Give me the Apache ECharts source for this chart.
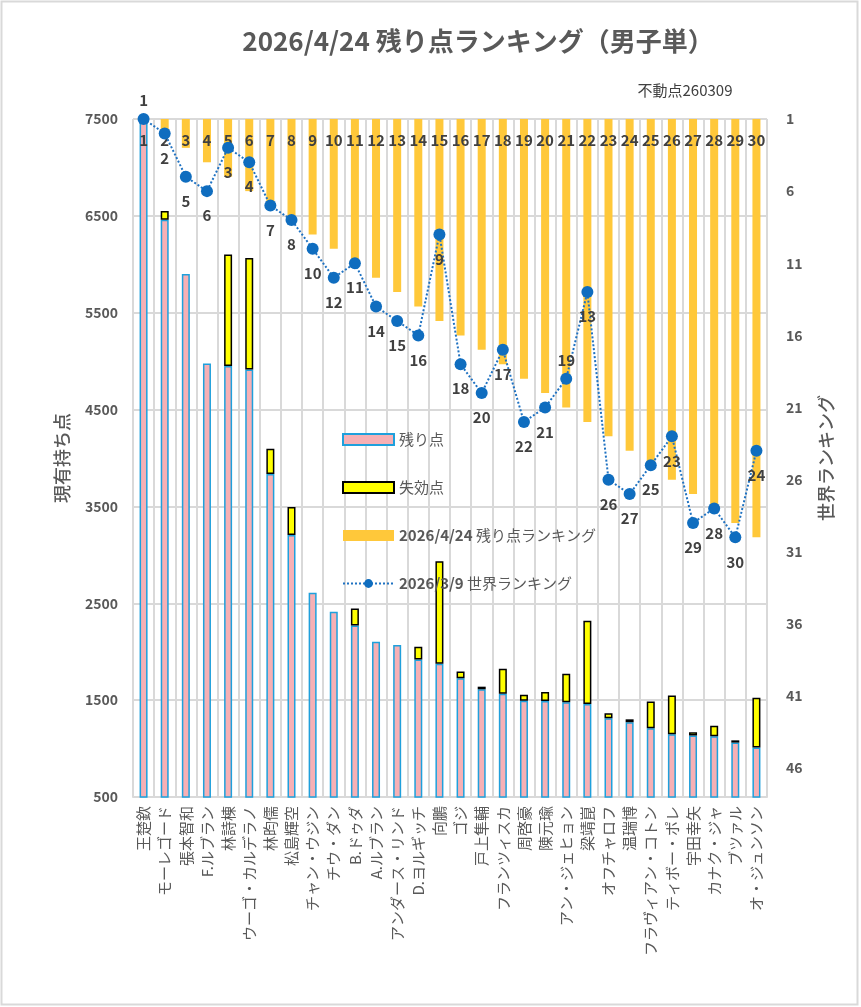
<!DOCTYPE html>
<html><head><meta charset="utf-8">
<script src="https://cdn.jsdelivr.net/npm/echarts@6/dist/echarts.min.js"></script>
<style>html,body{margin:0;padding:0;background:#fff}#c{width:861px;height:1007px}</style>
</head><body><div id="c"></div>
<script>
const categories = ['王楚欽','モーレゴード','張本智和','F.ルブラン','林詩棟','ウーゴ・カルデラノ','林昀儒','松島輝空','チャン・ウジン','チウ・ダン','B.ドゥダ','A.ルブラン','アンダース・リンド','D.ヨルギッチ','向鵬','ゴジ','戸上隼輔','フランツィスカ','周啓豪','陳元瑜','アン・ジェヒョン','梁靖崑','オフチャロフ','温瑞博','フラヴィアン・コトン','ティボー・ポレ','宇田幸矢','カナク・ジャ','ブツァル','オ・ジュンソン'];
const remainPoints = [7500,6460,5900,4975,4950,4915,3835,3205,2610,2413,2270,2104,2069,1920,1875,1725,1612,1565,1495,1490,1478,1460,1312,1272,1210,1147,1135,1127,1062,1010];
const expiredPoints = [0,90,0,0,1150,1150,260,290,0,0,175,0,0,130,1060,70,27,260,60,95,295,860,52,30,275,400,33,108,23,515];
const remainRank = [1,2,3,4,5,6,7,8,9,10,11,12,13,14,15,16,17,18,19,20,21,22,23,24,25,26,27,28,29,30];
const worldRank = [1,2,5,6,3,4,7,8,10,12,11,14,15,16,9,18,20,17,22,21,19,13,26,27,25,23,29,28,30,24];
const seriesNames = ['残り点','失効点','2026/4/24 残り点ランキング','2026/3/9 世界ランキング'];

const FONT = '"Noto Sans CJK JP","Noto Sans",sans-serif';
const GRID = '#D9D9D9';
const chart = echarts.init(document.getElementById('c'));
const option = {
  animation: false,
  textStyle: { fontFamily: FONT },
  grid: { left: 133, right: 94, top: 119, bottom: 210, containLabel: false, outerBoundsMode: 'none' },
  graphic: [
    { type: 'rect', shape: { x: 1.5, y: 1.5, width: 856, height: 1003 }, style: { fill: 'none', stroke: GRID, lineWidth: 2 }, silent: true },
    { type: 'text', x: 478, y: 41, style: { text: '2026/4/24 残り点ランキング（男子単）', fontSize: 26, fontWeight: 'bold', fontFamily: FONT, fill: '#595959', align: 'center', verticalAlign: 'middle' } },
    { type: 'text', x: 685, y: 90, style: { text: '不動点260309', fontSize: 15, fontFamily: FONT, fill: '#404040', align: 'center', verticalAlign: 'middle' } }
  ],
  legend: {
    orient: 'vertical', left: 337, top: 427, itemWidth: 51, itemHeight: 11, itemGap: 33,
    data: seriesNames.map(n => ({ name: n, icon: n === seriesNames[3] ? undefined : 'rect' })),
    formatter: n => n.replace(/^([\d\/]+)/, '{b|$1}'),
    textStyle: { fontSize: 15, color: '#595959', fontFamily: FONT, rich: { b: { fontSize: 15, fontWeight: 'bold', color: '#595959', fontFamily: FONT } } }
  },
  xAxis: {
    type: 'category', data: categories,
    axisLine: { lineStyle: { color: GRID, width: 2 } },
    axisTick: { show: false },
    splitLine: { show: true, lineStyle: { color: GRID, width: 2 } },
    axisLabel: { rotate: 90, interval: 0, fontSize: 15, color: '#595959', margin: 9, fontFamily: FONT }
  },
  yAxis: [
    {
      type: 'value', min: 500, max: 7500, interval: 1000,
      name: '現有持ち点', nameLocation: 'middle', nameGap: 62, nameRotate: 90,
      nameTextStyle: { fontSize: 18, fontWeight: 500, color: '#595959', fontFamily: FONT },
      axisLabel: { fontSize: 14, fontWeight: 'bold', color: '#595959', margin: 15, fontFamily: FONT, formatter: v => String(v) },
      axisLine: { show: false }, axisTick: { show: false },
      splitLine: { lineStyle: { color: GRID, width: 2 } }
    },
    {
      type: 'value', min: 1, max: 48, interval: 5, inverse: true, position: 'right',
      name: '世界ランキング', nameLocation: 'middle', nameGap: 50, nameRotate: 90,
      nameTextStyle: { fontSize: 18, fontWeight: 500, color: '#595959', fontFamily: FONT },
      axisLabel: { fontSize: 14, fontWeight: 'bold', color: '#595959', margin: 19, showMaxLabel: false, fontFamily: FONT, formatter: v => String(v) },
      axisLine: { show: false }, axisTick: { show: false }, splitLine: { show: false }
    }
  ],
  series: [
    { name: seriesNames[0], type: 'bar', stack: 'pts', data: remainPoints, barWidth: 8, barGap: '-100%', clip: true,
      itemStyle: { color: '#F6B0B5', borderColor: '#1FA0DC', borderWidth: 1.5 } },
    { name: seriesNames[1], type: 'bar', stack: 'pts', data: expiredPoints.map(v => v === 0 ? '-' : v), barWidth: 8, barGap: '-100%', clip: true,
      itemStyle: { color: '#FFFF00', borderColor: '#000000', borderWidth: 1.5 } },
    { name: seriesNames[2], type: 'bar', yAxisIndex: 1, data: remainRank, barWidth: 8, barGap: '-100%', clip: true,
      itemStyle: { color: '#FFC83A' },
      label: { show: true, position: 'insideTop', distance: 14, fontSize: 15, fontWeight: 'bold', color: '#404040', fontFamily: FONT } },
    { name: seriesNames[3], type: 'line', yAxisIndex: 1, symbol: 'circle', symbolSize: 12,
      data: worldRank.map((v, i) => (i === 0 || i === 20) ? { value: v, label: { position: 'top', distance: 5 } } : v),
      lineStyle: { type: 'dotted', width: 2, color: '#1F72C2' },
      itemStyle: { color: '#0F6DBF' },
      label: { show: true, position: 'bottom', distance: 11, fontSize: 15, fontWeight: 'bold', color: '#404040', fontFamily: FONT } }
  ]
};
chart.setOption(option);
</script></body></html>
